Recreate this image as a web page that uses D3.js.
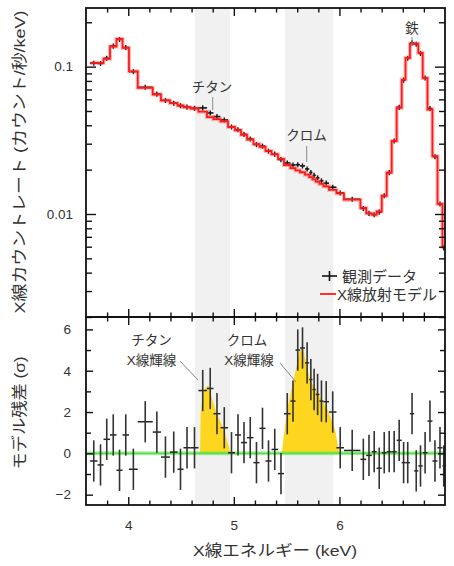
<!DOCTYPE html>
<html>
<head>
<meta charset="utf-8">
<script src="https://cdn.jsdelivr.net/npm/d3@7"></script>
<style>
  html, body { margin: 0; padding: 0; background: #fff; }
  svg { display: block; }
  text { font-family: "Liberation Sans", "Noto Sans CJK JP", sans-serif; fill: #333; }
</style>
</head>
<body>
<svg id="chart" width="454" height="566"></svg>
<script>
/* ---------- data ---------- */

// spectral bin edges (keV)
const binEdges = [3.638, 3.709, 3.766, 3.827, 3.889, 3.946, 4.007, 4.090, 4.232, 4.310,
  4.395, 4.467, 4.523, 4.590, 4.665, 4.746, 4.807, 4.874, 4.945, 5.011,
  5.068, 5.125, 5.186, 5.243, 5.300, 5.357, 5.418, 5.475, 5.537, 5.584,
  5.627, 5.674, 5.714, 5.745, 5.776, 5.811, 5.849, 5.901, 5.972, 6.043,
  6.199, 6.254, 6.306, 6.353, 6.401, 6.448, 6.495, 6.542, 6.590, 6.626,
  6.668, 6.708, 6.747, 6.789, 6.834, 6.881, 6.929, 6.976, 7.0];

// X-ray emission model (counts/s/keV)
const modelRate = [0.106, 0.106, 0.113, 0.137, 0.154, 0.134, 0.093, 0.0718, 0.0647, 0.059,
  0.0565, 0.0545, 0.053, 0.052, 0.0495, 0.0455, 0.044, 0.0425, 0.039, 0.037,
  0.0345, 0.032, 0.0298, 0.0285, 0.0268, 0.0254, 0.0237, 0.0215, 0.0205, 0.0198,
  0.0192, 0.0185, 0.0178, 0.0172, 0.0166, 0.016, 0.0154, 0.0146, 0.0138, 0.0125,
  0.011, 0.0101, 0.0099, 0.0104, 0.0133, 0.0191, 0.0313, 0.0526, 0.0817, 0.1145,
  0.143, 0.143, 0.124, 0.0838, 0.0512, 0.0247, 0.0117, 0.006];

// observed data (counts/s/keV)
const observedRate = [0.1055, 0.1052, 0.114, 0.138, 0.153, 0.135, 0.0925, 0.0725, 0.0652, 0.059,
  0.0565, 0.0543, 0.0532, 0.0522, 0.0525, 0.0485, 0.0458, 0.0435, 0.039, 0.0373,
  0.0347, 0.0323, 0.0296, 0.0289, 0.0267, 0.0255, 0.0234, 0.0222, 0.0215, 0.0216,
  0.0212, 0.0202, 0.0191, 0.0183, 0.0176, 0.0168, 0.0162, 0.0152, 0.0139, 0.0126,
  0.0109, 0.0101, 0.0099, 0.0103, 0.0133, 0.0191, 0.0313, 0.053, 0.081, 0.114,
  0.145, 0.142, 0.123, 0.0838, 0.052, 0.0245, 0.0117, 0.0059];

// residuals (sigma)
const residual = [-0.37, -0.56, 0.68, 0.89, -0.82, 0.89, -0.77, 1.53, 1.03, -0.18,
  0.06, -0.77, 0.27, 0.27, 3.04, 3.14, 1.92, 1.24, 0.03, 0.89,
  0.52, 0.76, -0.45, 1.21, -0.37, 0.19, -0.98, 1.92, 2.53, 5.0,
  5.1, 4.38, 3.57, 3.09, 2.85, 2.53, 2.5, 2.0, 0.27, 0.14,
  -0.29, -0.1, 0.08, -0.72, 0.03, 0.08, 0.08, 0.63, -0.45, -0.45,
  1.92, -0.85, -0.61, 0.03, 1.56, -0.37, 0.27, -0.61];

// line-emission excess (yellow), [keV, sigma]
const titaniumLine = [[4.680, 0], [4.686, 1.93], [4.711, 3.04], [4.758, 3.3], [4.838, 1.92], [4.907, 1.16], [4.970, 0]];
const chromiumLine = [[5.453, 0], [5.501, 1.97], [5.563, 3.49], [5.627, 5.02], [5.653, 5.1], [5.721, 3.57], [5.800, 2.85], [5.895, 2.04], [5.958, 1.16], [5.999, 0]];

// shaded energy bands (keV)
const bands = [[4.632, 4.964], [5.485, 5.942]];

const xTickLabels = [4, 5, 6];
const yTopTickLabels = [0.01, 0.1];
const yResTickLabels = [-2, 0, 2, 4, 6];

const REL_ERR = 0.04;

/* ---------- layout ---------- */

const L = 86, R = 445, T = 8, MID = 317, B = 505;

const svg = d3.select("#chart");

const x = d3.scaleLinear().domain([3.6, 7.0]).range([L, R]);
const yTop = d3.scaleLog().domain([0.002, 0.25]).range([MID, T]);
const yRes = d3.scaleLinear().domain([-2.5, 6.6]).range([B, MID]);

const bins = modelRate.map((m, i) => ({
  lo: binEdges[i], hi: binEdges[i + 1], mid: (binEdges[i] + binEdges[i + 1]) / 2,
  model: m, obs: observedRate[i], res: residual[i]
}));

/* ---------- bands ---------- */

bands.forEach(b => {
  svg.append("rect")
    .attr("x", x(b[0])).attr("y", T)
    .attr("width", x(b[1]) - x(b[0])).attr("height", B - T)
    .attr("fill", "#f1f1f1");
});

/* ---------- top panel ---------- */

const topG = svg.append("g");

// data crosses
topG.selectAll(".obs-h").data(bins).enter().append("line")
  .attr("x1", d => x(d.lo)).attr("x2", d => x(d.hi))
  .attr("y1", d => yTop(d.obs)).attr("y2", d => yTop(d.obs))
  .attr("stroke", "#111").attr("stroke-width", 1.6);

topG.selectAll(".obs-v").data(bins).enter().append("line")
  .attr("x1", d => x(d.mid)).attr("x2", d => x(d.mid))
  .attr("y1", d => yTop(d.obs * (1 - REL_ERR))).attr("y2", d => yTop(d.obs * (1 + REL_ERR)))
  .attr("stroke", "#111").attr("stroke-width", 1.4);

// model step
const stepPts = bins.map(d => [d.lo, d.model]).concat([[bins[bins.length - 1].hi, bins[bins.length - 1].model]]);
const stepLine = d3.line().x(d => x(d[0])).y(d => yTop(d[1])).curve(d3.curveStepAfter);

topG.append("path").attr("d", stepLine(stepPts))
  .attr("fill", "none").attr("stroke", "rgba(255,60,60,0.35)").attr("stroke-width", 4);
topG.append("path").attr("d", stepLine(stepPts))
  .attr("fill", "none").attr("stroke", "#ff1a1a").attr("stroke-width", 1.8);

/* ---------- residual panel ---------- */

const botG = svg.append("g");
const area = d3.area().x(d => x(d[0])).y0(yRes(0)).y1(d => yRes(d[1]));

[titaniumLine, chromiumLine].forEach(line => {
  botG.append("path").attr("d", area(line)).attr("fill", "#ffd61f");
});

botG.append("line")
  .attr("x1", L).attr("x2", R).attr("y1", yRes(0)).attr("y2", yRes(0))
  .attr("stroke", "rgba(90,230,70,0.45)").attr("stroke-width", 4);
botG.append("line")
  .attr("x1", L).attr("x2", R).attr("y1", yRes(0)).attr("y2", yRes(0))
  .attr("stroke", "#55e04a").attr("stroke-width", 1.8);

botG.selectAll(".res-h").data(bins).enter().append("line")
  .attr("x1", d => x(d.lo)).attr("x2", d => x(d.hi))
  .attr("y1", d => yRes(d.res)).attr("y2", d => yRes(d.res))
  .attr("stroke", "#222").attr("stroke-width", 1.5);

botG.selectAll(".res-v").data(bins).enter().append("line")
  .attr("x1", d => x(d.mid)).attr("x2", d => x(d.mid))
  .attr("y1", d => yRes(d.res - 1)).attr("y2", d => yRes(d.res + 1))
  .attr("stroke", "#333").attr("stroke-width", 1.6);

/* ---------- axes / ticks ---------- */

const xMinor = d3.range(3.8, 6.95, 0.2).filter(v => Math.abs(v - Math.round(v)) > 0.01);
const topMinor = yTop.ticks().filter(v => !yTopTickLabels.some(t => Math.abs(t - v) < 1e-9));
const resMinor = [-1, 1, 3, 5];

function tickAxis(axis, values, size, tx, ty) {
  const g = svg.append("g").attr("transform", `translate(${tx},${ty})`)
    .call(axis.tickValues(values).tickSize(size).tickFormat(""));
  g.select(".domain").remove();
  g.selectAll(".tick line").attr("stroke", "#111").attr("stroke-width", 1.4);
  return g;
}

// top panel: top, bottom, left, right
tickAxis(d3.axisTop(x), xMinor, -4.5, 0, T);
tickAxis(d3.axisTop(x), xTickLabels, -8, 0, T);
tickAxis(d3.axisBottom(x), xMinor, -4.5, 0, MID);
tickAxis(d3.axisBottom(x), xTickLabels, -8, 0, MID);
tickAxis(d3.axisLeft(yTop), topMinor, -6, L, 0);
tickAxis(d3.axisRight(yTop), topMinor, -6, R, 0);
tickAxis(d3.axisRight(yTop), yTopTickLabels, -10, R, 0);

const yTopAxis = svg.append("g").attr("transform", `translate(${L},0)`)
  .call(d3.axisLeft(yTop).tickValues(yTopTickLabels).tickSize(-10).tickPadding(13).tickFormat(d3.format("")));
yTopAxis.select(".domain").remove();
yTopAxis.selectAll(".tick line").attr("stroke", "#111").attr("stroke-width", 1.4);
yTopAxis.selectAll("text").attr("font-size", 13.5).attr("fill", "#3a3a3a");

// residual panel: top, bottom, left, right
tickAxis(d3.axisTop(x), xMinor, -4.5, 0, MID);
tickAxis(d3.axisTop(x), xTickLabels, -8, 0, MID);
tickAxis(d3.axisBottom(x), xMinor, -4.5, 0, B);
tickAxis(d3.axisLeft(yRes), resMinor, -5, L, 0);
tickAxis(d3.axisRight(yRes), resMinor, -5, R, 0);
tickAxis(d3.axisRight(yRes), yResTickLabels, -7, R, 0);

const xAxis = svg.append("g").attr("transform", `translate(0,${B})`)
  .call(d3.axisBottom(x).tickValues(xTickLabels).tickSize(-8).tickPadding(15).tickFormat(d3.format("d")));
xAxis.select(".domain").remove();
xAxis.selectAll(".tick line").attr("stroke", "#111").attr("stroke-width", 1.4);
xAxis.selectAll("text").attr("font-size", 13.5).attr("fill", "#3a3a3a");

const yResAxis = svg.append("g").attr("transform", `translate(${L},0)`)
  .call(d3.axisLeft(yRes).tickValues(yResTickLabels).tickSize(-7).tickPadding(15).tickFormat(d => d < 0 ? "\u2212" + Math.abs(d) : d));
yResAxis.select(".domain").remove();
yResAxis.selectAll(".tick line").attr("stroke", "#111").attr("stroke-width", 1.4);
yResAxis.selectAll("text").attr("font-size", 13.5).attr("fill", "#3a3a3a");

// frames
[[T, MID], [MID, B]].forEach(([y0, y1]) => {
  svg.append("rect").attr("x", L).attr("y", y0).attr("width", R - L).attr("height", y1 - y0)
    .attr("fill", "none").attr("stroke", "#111").attr("stroke-width", 1.8);
});

/* ---------- titles ---------- */

svg.append("text")
  .attr("transform", "translate(19,162) rotate(-90)")
  .attr("text-anchor", "middle").attr("dominant-baseline", "central")
  .attr("font-size", 15.5).attr("textLength", 303).attr("lengthAdjust", "spacingAndGlyphs")
  .text("X線カウントレート (カウント/秒/keV)");

svg.append("text")
  .attr("transform", "translate(19,413) rotate(-90)")
  .attr("text-anchor", "middle").attr("dominant-baseline", "central")
  .attr("font-size", 15.5).attr("textLength", 113).attr("lengthAdjust", "spacingAndGlyphs")
  .text("モデル残差 (σ)");

svg.append("text")
  .attr("x", 275).attr("y", 550)
  .attr("text-anchor", "middle").attr("dominant-baseline", "central")
  .attr("font-size", 15.5).attr("textLength", 164).attr("lengthAdjust", "spacingAndGlyphs")
  .text("X線エネルギー (keV)");

/* ---------- annotations ---------- */

const note = svg.append("g").attr("font-size", 13.5);
function label(tx, ty, s) {
  note.append("text").attr("x", tx).attr("y", ty)
    .attr("text-anchor", "middle").attr("dominant-baseline", "central")
    .attr("fill", "#555").text(s);
}
function leader(x1, y1, x2, y2) {
  svg.append("line").attr("x1", x1).attr("y1", y1).attr("x2", x2).attr("y2", y2)
    .attr("stroke", "#8a8a8a").attr("stroke-width", 1);
}

label(212, 87, "チタン");  leader(212.7, 97, 212.7, 110);
label(306.5, 135, "クロム"); leader(306.7, 146, 306.7, 162);
label(412, 28, "鉄");      leader(412, 37, 412, 46);

label(151.5, 340, "チタン"); label(151.5, 360, "X線輝線"); leader(180, 361, 198, 380);
label(247, 340, "クロム");  label(249, 360, "X線輝線"); leader(280, 363, 296, 382);

/* ---------- legend ---------- */

const legend = svg.append("g").attr("font-size", 15);
legend.append("line").attr("x1", 322).attr("x2", 337).attr("y1", 276).attr("y2", 276)
  .attr("stroke", "#111").attr("stroke-width", 1.6);
legend.append("line").attr("x1", 329.5).attr("x2", 329.5).attr("y1", 271).attr("y2", 281)
  .attr("stroke", "#111").attr("stroke-width", 1.6);
legend.append("text").attr("x", 342).attr("y", 276).attr("dominant-baseline", "central")
  .attr("fill", "#333").text("観測データ");

legend.append("line").attr("x1", 320).attr("x2", 336).attr("y1", 294).attr("y2", 294)
  .attr("stroke", "#ff1a1a").attr("stroke-width", 1.8);
legend.append("text").attr("x", 337).attr("y", 294).attr("dominant-baseline", "central")
  .attr("fill", "#333").text("X線放射モデル");
</script>
</body>
</html>
